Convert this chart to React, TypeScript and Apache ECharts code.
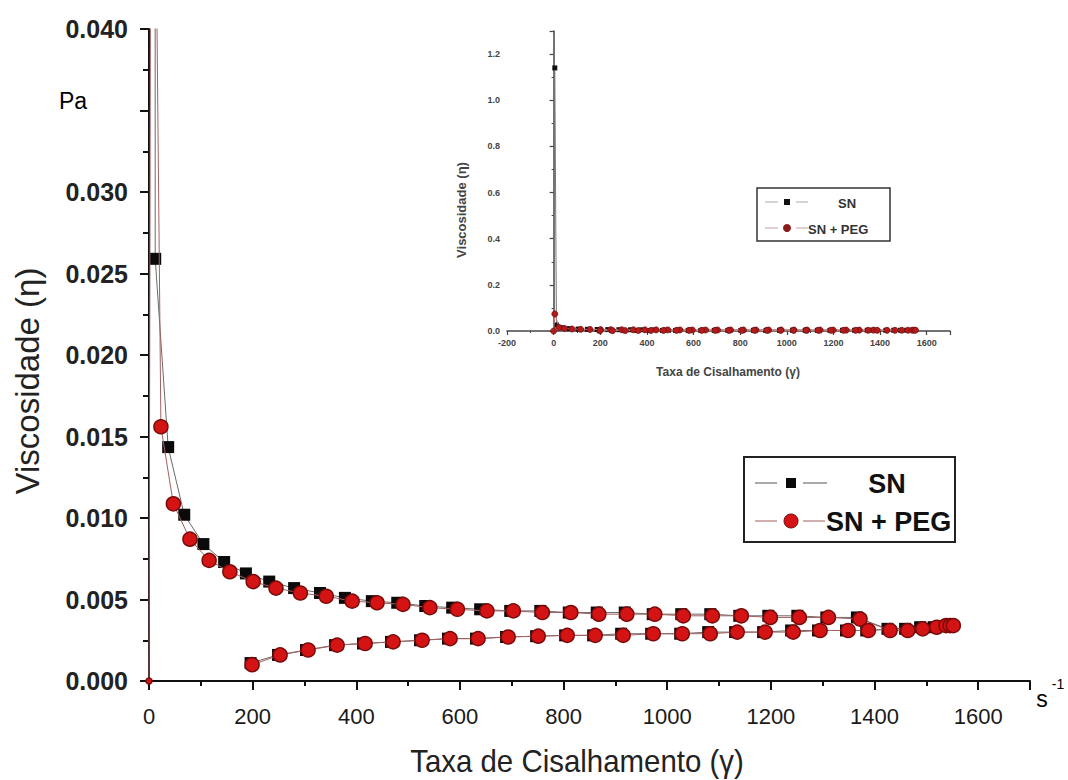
import React, { useEffect, useRef } from "react";
import * as echarts from "echarts";

// Shear-rate ramp (up) and return (down) for each sample
const snUpX = [5, 12, 37, 68, 105, 145, 187, 232, 280, 330, 378, 430, 479, 533, 585, 639, 697, 755, 810, 864, 918, 972, 1027, 1083, 1139, 1195, 1251, 1307, 1366, 1425, 1459, 1488, 1514, 1541];
const snUpY = [1.14, 0.0259, 0.01435, 0.0102, 0.0084, 0.0073, 0.0066, 0.0061, 0.0057, 0.0054, 0.0051, 0.0049, 0.0048, 0.0046, 0.0045, 0.0044, 0.0043, 0.0043, 0.0042, 0.0042, 0.0042, 0.0041, 0.0041, 0.0041, 0.004, 0.004, 0.004, 0.0039, 0.0039, 0.0032, 0.0032, 0.0033, 0.0033, 0.0034];
const snDownX = [1384, 1345, 1291, 1239, 1185, 1131, 1079, 1025, 969, 911, 857, 803, 747, 689, 631, 577, 523, 467, 413, 359, 303, 249, 196];
const snDownY = [0.0031, 0.0031, 0.0031, 0.0031, 0.003, 0.003, 0.003, 0.0029, 0.0029, 0.0029, 0.0028, 0.0028, 0.00275, 0.0027, 0.0026, 0.0026, 0.0025, 0.0024, 0.0023, 0.0022, 0.0019, 0.0016, 0.0011];

const pegUpX = [0, 5, 23, 47, 79, 116, 156, 201, 245, 292, 342, 392, 440, 490, 542, 595, 652, 703, 759, 814, 868, 922, 976, 1031, 1087, 1143, 1199, 1255, 1311, 1372, 1430, 1464, 1493, 1520, 1538, 1546, 1552];
const pegUpY = [0, 0.074, 0.0156, 0.01087, 0.0087, 0.0074, 0.0067, 0.0061, 0.0057, 0.0054, 0.0052, 0.0049, 0.0048, 0.0047, 0.0045, 0.0044, 0.0043, 0.0043, 0.0042, 0.0042, 0.0041, 0.0041, 0.0041, 0.004, 0.004, 0.004, 0.0039, 0.0039, 0.0039, 0.0038, 0.0031, 0.0031, 0.0032, 0.0033, 0.0034, 0.0034, 0.0034];
const pegDownX = [1388, 1349, 1295, 1243, 1189, 1135, 1083, 1029, 973, 915, 861, 807, 751, 693, 635, 581, 527, 471, 417, 363, 307, 253, 199];
const pegDownY = [0.0031, 0.0031, 0.0031, 0.003, 0.003, 0.003, 0.0029, 0.0029, 0.0029, 0.0028, 0.0028, 0.0028, 0.00275, 0.0027, 0.0026, 0.0026, 0.0025, 0.0024, 0.0023, 0.0022, 0.0019, 0.0016, 0.001];

const seriesNames = ["SN", "SN + PEG"];
const xTitle = "Taxa de Cisalhamento (\u03b3)";
const yTitle = "Viscosidade (\u03b7)";
// y tick values that carry no label on the main axis
const unlabeledY = [0.035];

const pairs = (xs: number[], ys: number[]) => xs.map((x, i) => [x, ys[i]]);
const snData = pairs(snUpX, snUpY).concat(pairs(snDownX, snDownY));
const pegData = pairs(pegUpX, pegUpY).concat(pairs(pegDownX, pegDownY));

const RED = "#d41414";
const RED_EDGE = "#7a0a0a";
const SANS = "'Liberation Sans', Arial, sans-serif";

function txt(text: string, x: number, y: number, font: string, align = "center", fill = "#111", rotation = 0, scaleX = 1) {
  return {
    type: "text",
    x,
    y,
    rotation,
    scaleX,
    z: 100,
    style: { text, font, fill, align, verticalAlign: "middle", textAlign: align, textVerticalAlign: "middle" },
  };
}

function line(x1: number, y1: number, x2: number, y2: number, stroke: string, w = 1) {
  return { type: "line", z: 100, shape: { x1, y1, x2, y2 }, style: { stroke, lineWidth: w } };
}

export default function App() {
  const ref = useRef<HTMLDivElement>(null);

  useEffect(() => {
    if (!ref.current) return;
    const chart = echarts.init(ref.current, undefined, { renderer: "svg" });

    const mainAxisLine = { show: true, lineStyle: { color: "#111", width: 2 } };
    const insetAxisLine = { show: true, lineStyle: { color: "#444", width: 1.5 } };

    chart.setOption({
      animation: false,
      backgroundColor: "#ffffff",
      grid: [
        { left: 149, right: 38, top: 29, bottom: 99 },
        { left: 507, right: 118, top: 31, bottom: 449 },
      ],
      xAxis: [
        {
          type: "value",
          gridIndex: 0,
          min: 0,
          max: 1700,
          interval: 200,
          axisLine: mainAxisLine,
          axisTick: { show: true, length: 9, lineStyle: { color: "#111", width: 2 } },
          minorTick: { show: true, splitNumber: 2, length: 5, lineStyle: { color: "#111", width: 2 } },
          splitLine: { show: false },
          axisLabel: {
            margin: 24,
            fontSize: 22,
            fontFamily: SANS,
            color: "#1a1a1a",
            showMaxLabel: false,
            formatter: (v: number) => String(v),
          },
        },
        {
          type: "value",
          gridIndex: 1,
          min: -200,
          max: 1700,
          interval: 200,
          axisLine: insetAxisLine,
          axisTick: { show: true, length: 4, lineStyle: { color: "#444", width: 1.2 } },
          minorTick: { show: true, splitNumber: 2, length: 2, lineStyle: { color: "#444", width: 1 } },
          splitLine: { show: false },
          axisLabel: {
            margin: 7,
            fontSize: 9,
            fontWeight: "bold",
            fontFamily: SANS,
            color: "#444",
            showMaxLabel: false,
            formatter: (v: number) => String(v),
          },
        },
      ],
      yAxis: [
        {
          type: "value",
          gridIndex: 0,
          min: 0,
          max: 0.04,
          interval: 0.005,
          axisLine: mainAxisLine,
          axisTick: { show: true, length: 9, lineStyle: { color: "#111", width: 2 } },
          minorTick: { show: true, splitNumber: 2, length: 6, lineStyle: { color: "#111", width: 2 } },
          splitLine: { show: false },
          axisLabel: {
            margin: 21,
            fontSize: 25,
            fontWeight: "bold",
            fontFamily: SANS,
            color: "#222",
            formatter: (v: number) =>
              unlabeledY.some((u) => Math.abs(u - v) < 1e-9) ? "" : v.toFixed(3),
          },
        },
        {
          type: "value",
          gridIndex: 1,
          min: 0,
          max: 1.3,
          interval: 0.2,
          axisLine: insetAxisLine,
          axisTick: { show: true, length: 4, lineStyle: { color: "#444", width: 1.2 } },
          minorTick: { show: true, splitNumber: 2, length: 2, lineStyle: { color: "#444", width: 1 } },
          splitLine: { show: false },
          axisLabel: {
            margin: 7,
            fontSize: 9,
            fontWeight: "bold",
            fontFamily: SANS,
            color: "#444",
            showMaxLabel: false,
            formatter: (v: number) => v.toFixed(1),
          },
        },
      ],
      series: [
        {
          type: "line",
          name: seriesNames[0],
          xAxisIndex: 0,
          yAxisIndex: 0,
          data: snData,
          symbol: "rect",
          symbolSize: 12,
          showAllSymbol: true,
          clip: true,
          itemStyle: { color: "#0a0a0a" },
          lineStyle: { color: "#6a6a6a", width: 1 },
          z: 2,
        },
        {
          type: "line",
          name: seriesNames[1],
          xAxisIndex: 0,
          yAxisIndex: 0,
          data: pegData,
          symbol: "circle",
          symbolSize: (v: number[]) => (v[1] === 0 ? 6 : 14),
          showAllSymbol: true,
          clip: true,
          itemStyle: { color: RED, borderColor: RED_EDGE, borderWidth: 1.5 },
          lineStyle: { color: "#a46060", width: 1 },
          z: 3,
        },
        {
          type: "line",
          name: seriesNames[0],
          xAxisIndex: 1,
          yAxisIndex: 1,
          data: snData,
          symbol: "rect",
          symbolSize: 5,
          showAllSymbol: true,
          itemStyle: { color: "#111" },
          lineStyle: { color: "#777", width: 1 },
          z: 2,
        },
        {
          type: "line",
          name: seriesNames[1],
          xAxisIndex: 1,
          yAxisIndex: 1,
          data: pegData,
          symbol: "circle",
          symbolSize: 6,
          showAllSymbol: true,
          itemStyle: { color: "#b31b1b", borderColor: "#7a1010", borderWidth: 0.8 },
          lineStyle: { color: "#c08080", width: 1 },
          z: 3,
        },
      ],
      graphic: [
        // axis titles and units of the main plot
        txt(yTitle, 27, 381, `33px ${SANS}`, "center", "#222", Math.PI / 2),
        txt(xTitle, 577, 761, `32px ${SANS}`, "center", "#222", 0, 0.92),
        txt("Pa", 73, 101, `23px ${SANS}`, "center", "#000"),
        txt("s", 1042, 699, `23px ${SANS}`, "center", "#000"),
        txt("-1", 1058, 684, `14px ${SANS}`, "center", "#000"),

        // main legend
        {
          type: "rect",
          z: 99,
          shape: { x: 744, y: 457, width: 211, height: 85 },
          style: { fill: "#fff", stroke: "#222", lineWidth: 2 },
        },
        line(755, 483, 777, 483, "#555"),
        { type: "rect", z: 100, shape: { x: 786, y: 478, width: 10, height: 10 }, style: { fill: "#0a0a0a" } },
        line(803, 483, 827, 483, "#555"),
        txt(seriesNames[0], 887, 484, `bold 27px ${SANS}`, "center", "#111"),
        line(755, 521, 777, 521, "#a46060"),
        { type: "circle", z: 100, shape: { cx: 791, cy: 521, r: 7 }, style: { fill: RED, stroke: RED_EDGE, lineWidth: 1 } },
        line(803, 521, 825, 521, "#a46060"),
        txt(seriesNames[1], 826, 522, `bold 27px ${SANS}`, "left", "#111"),

        // inset titles
        txt(yTitle, 461, 210, `bold 13px ${SANS}`, "center", "#444", Math.PI / 2),
        txt(xTitle, 728, 372, `bold 12px ${SANS}`, "center", "#444"),

        // inset legend
        {
          type: "rect",
          z: 99,
          shape: { x: 757, y: 188, width: 133, height: 53 },
          style: { fill: "#fff", stroke: "#333", lineWidth: 1.5 },
        },
        line(765, 202, 778, 202, "#aaa"),
        { type: "rect", z: 100, shape: { x: 784, y: 199, width: 6, height: 6 }, style: { fill: "#111" } },
        line(796, 202, 808, 202, "#aaa"),
        txt(seriesNames[0], 847, 203, `bold 13px ${SANS}`, "center", "#333"),
        line(765, 228, 778, 228, "#c8a0a0"),
        { type: "circle", z: 100, shape: { cx: 787, cy: 228, r: 4 }, style: { fill: "#8b1a1a" } },
        line(796, 228, 808, 228, "#c8a0a0"),
        txt(seriesNames[1], 808, 229, `bold 13px ${SANS}`, "left", "#333"),
      ],
    });

    return () => chart.dispose();
  }, []);

  return (
    <div
      ref={ref}
      style={{ position: "fixed", left: 0, top: 0, width: 1068, height: 780, background: "#fff" }}
    />
  );
}
